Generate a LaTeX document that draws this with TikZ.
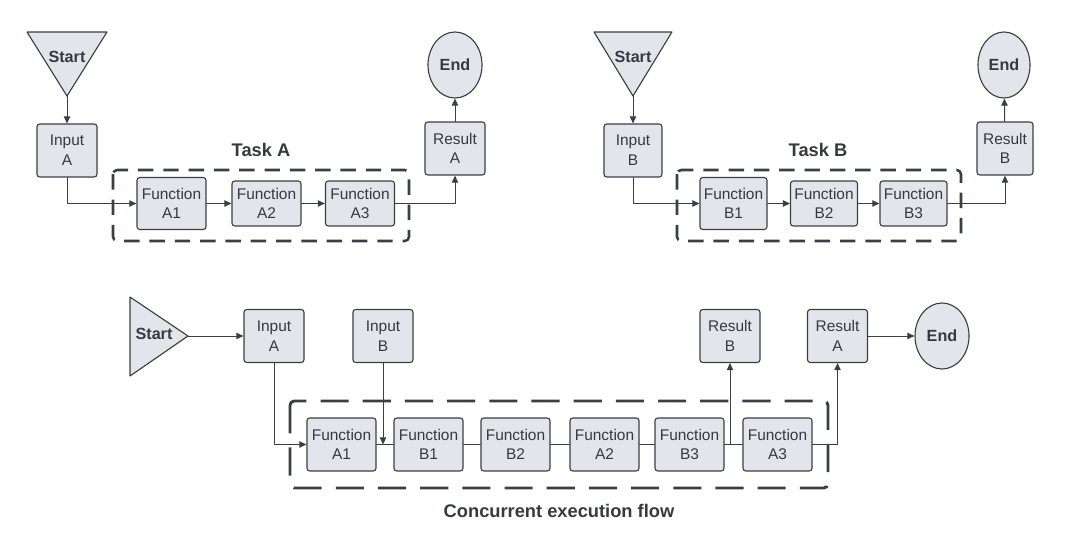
\documentclass[tikz,border=0pt]{standalone}
\usepackage{fontspec}
\setmainfont{Liberation Sans}
\usetikzlibrary{arrows.meta,shapes.geometric}
\definecolor{boxfill}{HTML}{E3E5EA}
\definecolor{edge}{HTML}{3B3F45}
\definecolor{ink}{HTML}{363A40}
\begin{document}
\begin{tikzpicture}[x=0.025cm, y=-0.025cm, line join=round, line cap=round,
	box/.style={draw=edge, fill=boxfill, rounded corners=2pt, line width=0.8pt, text=ink,
		font=\fontsize{11}{14}\selectfont, align=center, inner sep=1pt,
		minimum width=1.5cm, minimum height=1.325cm},
	fbox/.style={box, minimum width=1.725cm, minimum height=1.125cm},
	term/.style={ellipse, draw=edge, fill=boxfill, line width=0.8pt, text=ink,
		font=\fontsize{11.5}{13}\bfseries\selectfont, inner sep=0pt,
		minimum width=1.35cm, minimum height=1.65cm},
	tri/.style={draw=edge, fill=boxfill, line width=0.8pt},
	flow/.style={draw=edge, line width=0.7pt},
	arr/.style={flow, -{Triangle[length=5pt,width=4.5pt]}},
	group/.style={draw=edge, line width=1.8pt, line cap=butt, rounded corners=3pt, dash pattern=on 11pt off 7pt},
	title/.style={text=ink, font=\fontsize{13}{15}\bfseries\selectfont}]
	\useasboundingbox (0,0) rectangle (1086,550);

	% Task A
	\draw[tri] (27,32) -- (107,32) -- (67,96) -- cycle;
	\coordinate (sA) at (67,96);
	\node[text=ink, font=\fontsize{11.5}{13}\bfseries\selectfont] (stA) at (67,57) {Start};
	\node[box] (inA) at (67,150.5) {Input\\A};
	\draw[group] (113,170) rectangle (409,241);
	\node[title] (tA) at (261,150) {Task A};
	\node[fbox, minimum height=1.3cm] (fA1) at (171.5,203.5) {Function\\A1};
	\node[fbox] (fA2) at (266.5,203.5) {Function\\A2};
	\node[fbox] (fA3) at (360,203.5) {Function\\A3};
	\node[box] (resA) at (455,148.5) {Result\\A};
	\node[term] (endA) at (455,65) {End};
	\draw[arr] (sA) -- (inA);
	\draw[arr] (inA) |- (fA1);
	\foreach \p/\q in {fA1/fA2, fA2/fA3} \draw[arr] (\p) -- (\q);
	\draw[arr] (fA3) -| (resA);
	\draw[arr] (resA) -- (endA);

	% Task B
	\draw[tri] (594,32) -- (672,32) -- (633,96) -- cycle;
	\coordinate (sB) at (633,96);
	\node[text=ink, font=\fontsize{11.5}{13}\bfseries\selectfont] (stB) at (633,57) {Start};
	\node[box, minimum width=1.45cm] (inB) at (633,150.5) {Input\\B};
	\draw[group] (677,170) rectangle (961,241);
	\node[title] (tB) at (818,150) {Task B};
	\node[fbox, minimum width=1.675cm, minimum height=1.3cm] (fB1) at (733.5,203.5) {Function\\B1};
	\node[fbox, minimum width=1.675cm] (fB2) at (824,203.5) {Function\\B2};
	\node[fbox, minimum width=1.675cm] (fB3) at (913.5,203.5) {Function\\B3};
	\node[box, minimum width=1.4cm] (resB) at (1005,148.5) {Result\\B};
	\node[term, minimum width=1.3cm] (endB) at (1004,65) {End};
	\draw[arr] (sB) -- (inB);
	\draw[arr] (inB) |- (fB1);
	\foreach \p/\q in {fB1/fB2, fB2/fB3} \draw[arr] (\p) -- (\q);
	\draw[arr] (fB3) -| (resB);
	\draw[arr] (resB) -- (endB);

	% concurrent flow
	\draw[tri] (130,297) -- (130,376) -- (188,336) -- cycle;
	\coordinate (sC) at (188,336);
	\node[text=ink, font=\fontsize{11.5}{13}\bfseries\selectfont] (stC) at (154,334) {Start};
	\node[box] (cinA) at (274,336) {Input\\A};
	\node[box] (cinB) at (383,336) {Input\\B};
	\draw[group, line width=2.1pt, dash pattern=on 20pt off 10pt] (290,401) rectangle (828,488);
	\foreach \n/\x/\t in {cA1/341.5/A1, cB1/428.5/B1, cB2/515.5/B2, cA2/604.5/A2, cB3/689.5/B3, cA3/777.5/A3}
		\node[fbox, minimum height=1.325cm] (\n) at (\x,444.5) {Function\\\t};
	\node[box] (cresB) at (730,336) {Result\\B};
	\node[box] (cresA) at (837.5,336) {Result\\A};
	\node[term] (endC) at (942,336) {End};
	\node[title] (tC) at (559,511) {Concurrent execution flow};
	\coordinate (jB) at (cinB |- cA1);
	\coordinate (jR) at (cresB |- cA3);
	\draw[arr] (sC) -- (cinA);
	\draw[arr] (cinA) |- (cA1);
	\draw[arr] (cinB) -- (jB);
	\foreach \p/\q in {cA1/cB1, cB1/cB2, cB2/cA2, cA2/cB3, cB3/cA3} \draw[flow] (\p) -- (\q);
	\draw[arr] (jR) -- (cresB);
	\draw[arr] (cA3) -| (cresA);
	\draw[arr] (cresA) -- (endC);
\end{tikzpicture}
\end{document}
